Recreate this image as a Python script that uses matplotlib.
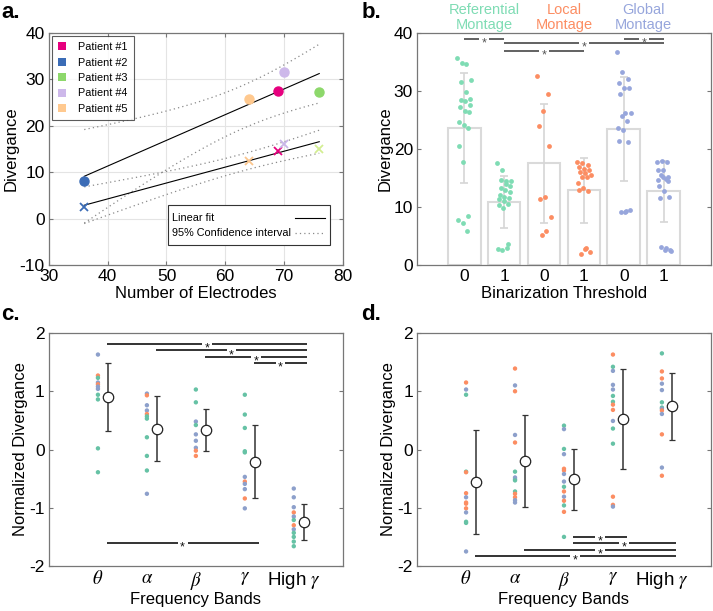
import matplotlib.pyplot as plt
import matplotlib.transforms as mtransforms
import numpy as np
from matplotlib.patches import Patch, Rectangle

plt.rcParams['font.family'] = ['Liberation Sans', 'DejaVu Sans']
plt.rcParams['mathtext.fontset'] = 'stix'
plt.rcParams['axes.unicode_minus'] = False

# ---------------- panel a data
patients = ['Patient #1', 'Patient #2', 'Patient #3', 'Patient #4', 'Patient #5']
electrodes = [69, 36, 76, 70, 64]
div_thr0 = [27.6, 8.2, 27.2, 31.6, 25.7]
div_thr1 = [14.6, 2.6, 15.0, 16.0, 12.4]
pat_colors = ['#e6007e', '#3b6cb6', '#8dd86b', '#cdb8ea', '#ffc98f']
cross_colors = ['#e6007e', '#3b6cb6', '#d3ee92', '#c9b6e8', '#fbc58c']

# ---------------- panel b data
montages = ['Referential\nMontage', 'Local\nMontage', 'Global\nMontage']
bin_labels = ['0', '1', '0', '1', '0', '1']
bar_mean = [23.6, 10.9, 17.5, 12.9, 23.4, 12.7]
bar_sd = [9.5, 4.45, 10.2, 5.6, 9.0, 5.3]
ref0 = [35.7, 34.9, 34.6, 31.9, 31.6, 29.8, 28.7, 28.4, 28.2, 27.5, 27.3,
        26.6, 26.4, 24.6, 24.2, 23.6, 20.5, 17.8, 8.5, 7.8, 7.3, 5.9]
ref1 = [17.5, 16.3, 14.5, 14.4, 14.6, 14.0, 13.7, 13.3, 13.0, 12.5, 12.0,
        11.8, 11.6, 11.4, 11.1, 10.6, 10.3, 9.8, 3.6, 2.7, 2.5, 2.9]
loc0 = [32.5, 29.4, 26.5, 24.0, 20.5, 11.8, 11.3, 8.2, 5.9, 5.2]
loc1 = [17.8, 17.5, 17.2, 16.9, 16.6, 16.4, 16.1, 15.8, 15.5, 15.1, 15.2,
        14.1, 13.3, 12.8, 12.9, 2.7, 2.3, 1.9, 2.9]
glob0 = [36.7, 33.3, 32.0, 31.3, 30.6, 30.5, 29.4, 26.2, 26.2, 25.7, 24.9,
         23.6, 23.2, 21.2, 21.3, 9.1, 9.5, 9.1, 9.3]
glob1 = [17.7, 18.0, 17.8, 16.4, 16.3, 15.2, 14.7, 15.1, 14.4, 13.6, 12.8,
         11.8, 11.6, 2.5, 2.6, 3.1, 3.0, 2.4, 15.5, 14.9]
b_groups = [ref0, ref1, loc0, loc1, glob0, glob1]
# significance pairs (bar from, bar to, height)
b_sig = [(1, 2, 39.0), (5, 6, 39.0), (2, 6, 38.2), (2, 4, 36.95)]

set2 = {'g': '#66c2a5', 'o': '#fc8d62', 'b': '#8da0cb'}
montage_colors = ['#7fdcb4', '#fc8d62', '#97a6dc']

# ---------------- panel c / d data
bands = [r'$\theta$', r'$\alpha$', r'$\beta$', r'$\gamma$', r'High $\gamma$']

c_vals = [
    [1.63, 1.27, 1.23, 1.15, 1.12, 1.08, 1.04, 0.94, 0.86, 0.02, -0.39],
    [0.96, 0.93, 0.76, 0.67, 0.61, 0.57, 0.53, 0.21, -0.11, -0.36, -0.76],
    [1.03, 0.81, 0.48, 0.42, 0.26, 0.15, 0.03, -0.02, -0.11],
    [0.94, 0.60, 0.37, -0.03, -0.05, -0.47, -0.55, -0.59, -0.68, -0.84, -1.01],
    [-0.67, -0.82, -0.99, -1.08, -1.15, -1.21, -1.30, -1.37, -1.43, -1.50, -1.58, -1.66],
]
c_cols = [
    'bogbobbgggg',
    'bobbogggggb',
    'ggbgbbboo',
    'gggggbobbob',
    'bbbobgobgggg',
]
c_mean = [0.90, 0.36, 0.33, -0.21, -1.24]
c_err = [0.585, 0.55, 0.36, 0.63, 0.31]
c_sig = [(1, 5, 1.81), (2, 5, 1.70), (3, 5, 1.59), (4, 5, 1.48), (1, 4, -1.60)]

d_vals = [
    [1.15, 1.03, 0.94, -0.38, -0.39, -0.75, -0.82, -0.91, -0.93, -1.01, -1.08, -1.24, -1.26, -1.75],
    [1.39, 1.10, 1.00, 0.25, 0.12, -0.38, -0.48, -0.51, -0.53, -0.72, -0.76, -0.82, -0.87, -0.91],
    [0.41, 0.35, 0.01, -0.08, -0.33, -0.36, -0.42, -0.55, -0.64, -0.72, -0.81, -0.88, -0.96, -1.07, -1.50],
    [1.63, 1.42, 1.35, 1.11, 1.03, 0.92, 0.82, 0.77, 0.68, 0.49, 0.36, 0.10, -0.81, -0.95, -0.98],
    [1.65, 1.34, 1.22, 1.13, 1.02, 0.81, 0.72, 0.70, 0.67, 0.61, 0.26, -0.31, -0.45],
]
d_cols = [
    'obggoobooobggb',
    'obobogbbggoobb',
    'gbgboobbgobogog',
    'ogbbbggoobggoob',
    'goobbggbobobo',
]
d_mean = [-0.56, -0.20, -0.51, 0.52, 0.74]
d_err = [0.89, 0.79, 0.52, 0.855, 0.575]
d_sig = [(3, 4, -1.50), (3, 5, -1.61), (2, 5, -1.72), (1, 5, -1.83)]


def jitter(n, width):
    idx = (np.arange(n) * 7) % n
    return np.linspace(-width, width, n)[idx] if n > 1 else np.zeros(1)


def style_axes(ax):
    for s in ax.spines.values():
        s.set_color('#777777')
        s.set_linewidth(0.9)
    ax.tick_params(direction='in', top=True, right=True, length=3,
                   color='#777777', labelsize=12.5, pad=3)


def fit_band(x, y, xs):
    x = np.asarray(x, float)
    y = np.asarray(y, float)
    n = len(x)
    p = np.polyfit(x, y, 1)
    s = np.sqrt(np.sum((y - np.polyval(p, x)) ** 2) / (n - 2))
    t = 3.182  # t(0.975, n-2=3)
    se = s * np.sqrt(1 / n + (xs - x.mean()) ** 2 / np.sum((x - x.mean()) ** 2))
    f = np.polyval(p, xs)
    return f, f - t * se, f + t * se


def sig_line(ax, x0, x1, y, color, lw, fs, gap):
    xm = (x0 + x1) / 2
    ax.plot([x0, xm - gap], [y, y], color=color, lw=lw, solid_capstyle='butt', zorder=4)
    ax.plot([xm + gap, x1], [y, y], color=color, lw=lw, solid_capstyle='butt', zorder=4)
    tr = mtransforms.offset_copy(ax.transData, fig=ax.figure, y=-0.6 * fs, units='points')
    ax.text(xm, y, '*', ha='center', va='baseline', fontsize=fs, color=color,
            zorder=5, transform=tr)


fig = plt.figure(figsize=(7.13, 6.11), dpi=100)
ax_a = fig.add_axes([0.0687, 0.5663, 0.412, 0.3797])
ax_b = fig.add_axes([0.585, 0.5663, 0.412, 0.3797])
ax_c = fig.add_axes([0.0687, 0.0736, 0.412, 0.3814])
ax_d = fig.add_axes([0.585, 0.0736, 0.412, 0.3814])

# ---------------- a
dotted = (0, (1, 2.5))
xs = np.linspace(min(electrodes), max(electrodes), 100)
for yv in (div_thr0, div_thr1):
    f, lo, hi = fit_band(electrodes, yv, xs)
    ax_a.plot(xs, f, color='black', lw=0.8, zorder=2)
    ax_a.plot(xs, lo, color='#8a8a8a', lw=0.9, ls=dotted, zorder=2)
    ax_a.plot(xs, hi, color='#8a8a8a', lw=0.9, ls=dotted, zorder=2)
for i in range(len(patients)):
    ax_a.plot(electrodes[i], div_thr0[i], 'o', color=pat_colors[i], ms=6.5, zorder=3)
    ax_a.plot(electrodes[i], div_thr1[i], 'x', color=cross_colors[i], ms=6, mew=1.3, zorder=3)
ax_a.set_xlim(30, 80)
ax_a.set_ylim(-10, 40)
ax_a.set_xticks(range(30, 81, 10))
ax_a.set_yticks(range(-10, 41, 10))
ax_a.grid(True, color='#e4e4e4', lw=0.8)
ax_a.set_axisbelow(True)
style_axes(ax_a)
ax_a.set_xlabel('Number of Electrodes', fontsize=12, labelpad=1)
ax_a.set_ylabel('Divergance', fontsize=12, labelpad=1)
h1 = [Patch(fc=c, ec='none') for c in pat_colors]
leg1 = ax_a.legend(h1, patients, loc='upper left', fontsize=7.8, frameon=True,
                   fancybox=False, edgecolor='#333333', handlelength=0.75,
                   handleheight=0.75, handletextpad=1.1, borderpad=0.55,
                   labelspacing=0.5, borderaxespad=0.3)
leg1.get_frame().set_linewidth(0.8)

# second legend drawn by hand: labels left, line samples right
ax_a.add_patch(Rectangle((0.405, 0.086), 0.551, 0.173, transform=ax_a.transAxes,
                         fc='white', ec='#333333', lw=0.8, zorder=6))
ax_a.text(0.418, 0.203, 'Linear fit', transform=ax_a.transAxes, fontsize=7.8,
          va='center', zorder=7)
ax_a.text(0.418, 0.140, '95% Confidence interval', transform=ax_a.transAxes,
          fontsize=7.8, va='center', zorder=7)
ax_a.plot([0.837, 0.939], [0.203, 0.203], transform=ax_a.transAxes, color='black',
          lw=0.8, zorder=7)
ax_a.plot([0.837, 0.939], [0.140, 0.140], transform=ax_a.transAxes, color='#8a8a8a',
          lw=0.9, ls=dotted, zorder=7)

# ---------------- b
pos = np.arange(1, 7)
ax_b.bar(pos, bar_mean, width=0.82, color='white', edgecolor='#dadada', lw=1.5, zorder=1)
ax_b.errorbar(pos, bar_mean, yerr=bar_sd, fmt='none', ecolor='#d6d6d6', elinewidth=1.2,
              capsize=3, capthick=1.2, zorder=2)
for i, g in enumerate(b_groups):
    col = montage_colors[i // 2]
    ax_b.scatter(pos[i] + jitter(len(g), 0.17), g, s=12, color=col, lw=0, zorder=3)
for a, b, y in b_sig:
    sig_line(ax_b, a, b, y, '#555555', 1.3, 9, 0.12)
ax_b.set_xlim(-0.18, 7.18)
ax_b.set_ylim(0, 40)
ax_b.set_xticks(pos)
ax_b.set_xticklabels(bin_labels)
ax_b.set_yticks(range(0, 41, 10))
style_axes(ax_b)
ax_b.tick_params(axis='x', length=0, top=False)
ax_b.set_xlabel('Binarization Threshold', fontsize=12, labelpad=1)
ax_b.set_ylabel('Divergance', fontsize=12, labelpad=1)
for k, m in enumerate(montages):
    ax_b.text(pos[2 * k] + 0.5, 1.005, m, transform=ax_b.get_xaxis_transform(),
              ha='center', va='bottom', fontsize=10.5, color=montage_colors[k],
              linespacing=1.1)

# ---------------- c and d
for ax, vals, cols, means, errs, sigs in (
        (ax_c, c_vals, c_cols, c_mean, c_err, c_sig),
        (ax_d, d_vals, d_cols, d_mean, d_err, d_sig)):
    for i, v in enumerate(vals):
        ax.scatter(np.full(len(v), i + 1.0), v, s=10, lw=0,
                   color=[set2[c] for c in cols[i]], zorder=3)
    mp = np.arange(1, 6) + 0.2
    ax.errorbar(mp, means, yerr=errs, fmt='o', color='#333333', mfc='white',
                mec='#222222', ms=7.5, mew=0.9, elinewidth=1.1, capsize=2.5,
                capthick=1, zorder=4)
    for a, b, y in sigs:
        sig_line(ax, a + 0.18, b + 0.28, y, '#111111', 1.2, 9, 0.1)
    ax.set_xlim(0, 6)
    ax.set_ylim(-2, 2)
    ax.set_xticks(range(1, 6))
    ax.set_xticklabels(bands)
    ax.set_yticks(range(-2, 3))
    style_axes(ax)
    ax.tick_params(axis='x', labelsize=13.5, length=0, top=False)
    ax.set_xlabel('Frequency Bands', fontsize=12, labelpad=0)
    ax.set_ylabel('Normalized Divergance', fontsize=12, labelpad=1)

for x, y, t in ((0.002, 0.997, 'a.'), (0.507, 0.997, 'b.'),
                (0.002, 0.503, 'c.'), (0.507, 0.503, 'd.')):
    fig.text(x, y, t, fontsize=16, fontweight='bold', va='top', ha='left')

fig.savefig('out.png', dpi=100)
